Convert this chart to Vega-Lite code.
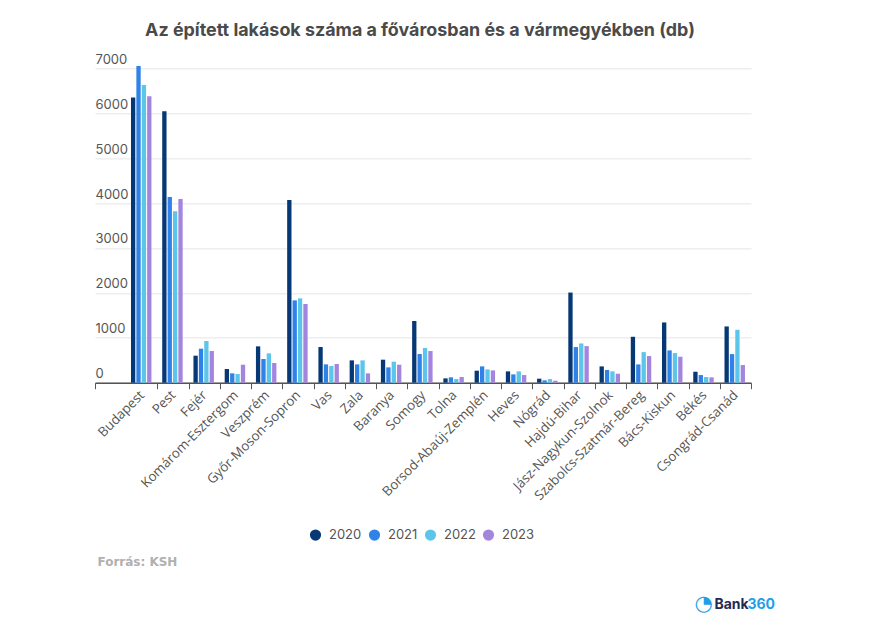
{"$schema":"https://vega.github.io/schema/vega-lite/v6.json","width":656,"height":314.4,"autosize":"none","padding":{"left":95,"top":68.3,"right":142,"bottom":256},"background":"white",
"title":{"text":"Az épített lakások száma a fővárosban és a vármegyékben (db)","anchor":"middle","dx":-3,"offset":13,"font":"Inter","fontSize":17.9,"fontWeight":700,"color":"#4a4a4a"},
"data":{"values":[
{"m":"Budapest","y":"2020","v":6350},{"m":"Budapest","y":"2021","v":7052},{"m":"Budapest","y":"2022","v":6630},{"m":"Budapest","y":"2023","v":6377},
{"m":"Pest","y":"2020","v":6043},{"m":"Pest","y":"2021","v":4135},{"m":"Pest","y":"2022","v":3816},{"m":"Pest","y":"2023","v":4090},
{"m":"Fejér","y":"2020","v":601},{"m":"Fejér","y":"2021","v":757},{"m":"Fejér","y":"2022","v":928},{"m":"Fejér","y":"2023","v":705},
{"m":"Komárom-Esztergom","y":"2020","v":304},{"m":"Komárom-Esztergom","y":"2021","v":208},{"m":"Komárom-Esztergom","y":"2022","v":193},{"m":"Komárom-Esztergom","y":"2023","v":401},
{"m":"Veszprém","y":"2020","v":809},{"m":"Veszprém","y":"2021","v":527},{"m":"Veszprém","y":"2022","v":653},{"m":"Veszprém","y":"2023","v":438},
{"m":"Győr-Moson-Sopron","y":"2020","v":4068},{"m":"Győr-Moson-Sopron","y":"2021","v":1833},{"m":"Győr-Moson-Sopron","y":"2022","v":1878},{"m":"Győr-Moson-Sopron","y":"2023","v":1752},
{"m":"Vas","y":"2020","v":794},{"m":"Vas","y":"2021","v":408},{"m":"Vas","y":"2022","v":371},{"m":"Vas","y":"2023","v":416},
{"m":"Zala","y":"2020","v":497},{"m":"Zala","y":"2021","v":408},{"m":"Zala","y":"2022","v":497},{"m":"Zala","y":"2023","v":208},
{"m":"Baranya","y":"2020","v":512},{"m":"Baranya","y":"2021","v":341},{"m":"Baranya","y":"2022","v":468},{"m":"Baranya","y":"2023","v":401},
{"m":"Somogy","y":"2020","v":1373},{"m":"Somogy","y":"2021","v":638},{"m":"Somogy","y":"2022","v":772},{"m":"Somogy","y":"2023","v":705},
{"m":"Tolna","y":"2020","v":96},{"m":"Tolna","y":"2021","v":119},{"m":"Tolna","y":"2022","v":81},{"m":"Tolna","y":"2023","v":126},
{"m":"Borsod-Abaúj-Zemplén","y":"2020","v":267},{"m":"Borsod-Abaúj-Zemplén","y":"2021","v":363},{"m":"Borsod-Abaúj-Zemplén","y":"2022","v":296},{"m":"Borsod-Abaúj-Zemplén","y":"2023","v":274},
{"m":"Heves","y":"2020","v":252},{"m":"Heves","y":"2021","v":185},{"m":"Heves","y":"2022","v":252},{"m":"Heves","y":"2023","v":170},
{"m":"Nógrád","y":"2020","v":89},{"m":"Nógrád","y":"2021","v":52},{"m":"Nógrád","y":"2022","v":81},{"m":"Nógrád","y":"2023","v":44},
{"m":"Hajdú-Bihar","y":"2020","v":2007},{"m":"Hajdú-Bihar","y":"2021","v":793},{"m":"Hajdú-Bihar","y":"2022","v":874},{"m":"Hajdú-Bihar","y":"2023","v":815},
{"m":"Jász-Nagykun-Szolnok","y":"2020","v":363},{"m":"Jász-Nagykun-Szolnok","y":"2021","v":281},{"m":"Jász-Nagykun-Szolnok","y":"2022","v":252},{"m":"Jász-Nagykun-Szolnok","y":"2023","v":200},
{"m":"Szabolcs-Szatmár-Bereg","y":"2020","v":1022},{"m":"Szabolcs-Szatmár-Bereg","y":"2021","v":407},{"m":"Szabolcs-Szatmár-Bereg","y":"2022","v":681},{"m":"Szabolcs-Szatmár-Bereg","y":"2023","v":593},
{"m":"Bács-Kiskun","y":"2020","v":1341},{"m":"Bács-Kiskun","y":"2021","v":719},{"m":"Bács-Kiskun","y":"2022","v":659},{"m":"Bács-Kiskun","y":"2023","v":578},
{"m":"Békés","y":"2020","v":244},{"m":"Békés","y":"2021","v":170},{"m":"Békés","y":"2022","v":126},{"m":"Békés","y":"2023","v":119},
{"m":"Csongrád-Csanád","y":"2020","v":1252},{"m":"Csongrád-Csanád","y":"2021","v":637},{"m":"Csongrád-Csanád","y":"2022","v":1178},{"m":"Csongrád-Csanád","y":"2023","v":393}
]},
"encoding":{
"x":{"field":"m","type":"nominal","sort":null,"scale":{"domain":[" ","Budapest","Pest","Fejér","Komárom-Esztergom","Veszprém","Győr-Moson-Sopron","Vas","Zala","Baranya","Somogy","Tolna","Borsod-Abaúj-Zemplén","Heves","Nógrád","Hajdú-Bihar","Jász-Nagykun-Szolnok","Szabolcs-Szatmár-Bereg","Bács-Kiskun","Békés","Csongrád-Csanád"],"paddingInner":0,"paddingOuter":0},
"axis":{"title":"Forrás: KSH","titleX":2,"titleY":183,"titleAlign":"left","titleBaseline":"alphabetic","titleFont":"DejaVu Sans","titleFontSize":12,"titleFontWeight":700,"titleColor":"#b0b0b0","labelAngle":-45,"labelAlign":"right","labelBaseline":"middle","labelFont":"Open Sans","labelFontSize":13.3,"labelColor":"#555555","labelPadding":4,"labelOverlap":false,"tickBand":"extent","tickSize":6,"tickWidth":1,"tickColor":{"condition":{"test":"datum.value===' '","value":"transparent"},"value":"#555555"},"domainColor":"#555555","domainWidth":1.5,"grid":false}},
"xOffset":{"field":"y","type":"nominal","scale":{"paddingInner":0.2,"paddingOuter":1.22,"align":0.44}},
"color":{"field":"y","type":"nominal","scale":{"domain":["2020","2021","2022","2023"],"range":["#063876","#2e82e8","#5cc6ea","#a485de"]},
"legend":{"title":null,"orient":"none","legendX":214,"legendY":460,"direction":"horizontal","symbolType":"circle","symbolSize":125,"symbolStrokeWidth":0,"labelFont":"Inter","labelFontSize":13,"labelColor":"#555555","columnPadding":6,"labelOffset":7}}
},
"layer":[
{"mark":{"type":"bar"},"encoding":{"y":{"field":"v","type":"quantitative","scale":{"domain":[0,7000],"nice":false},"axis":{"title":"Bank","titleX":619,"titleY":540.7,"titleAngle":0,"titleAlign":"left","titleBaseline":"alphabetic","titleFont":"Inter","titleFontSize":14,"titleFontWeight":700,"titleColor":"#1f2a56","values":[0,1000,2000,3000,4000,5000,6000,7000],"format":"d","labelAlign":"left","labelBaseline":"bottom","labelPadding":0,"labelOffset":-2,"labelFont":"Inter","labelFontSize":13,"labelColor":"#555555","ticks":false,"tickSize":0,"domain":false,"grid":true,"gridColor":"#eeeeee","gridWidth":1.5}}}},
{"mark":{"type":"bar","opacity":0},"encoding":{"y":{"field":"v","type":"quantitative","scale":{"domain":[0,7000],"nice":false},"axis":{"orient":"right","title":"360","titleX":-4,"titleY":540.7,"titleAngle":0,"titleAlign":"left","titleBaseline":"alphabetic","titleFont":"Inter","titleFontSize":14,"titleFontWeight":700,"titleColor":"#1e9fe8","labels":false,"ticks":false,"domain":false,"grid":false}}}},
{"mark":{"type":"bar","opacity":0},"encoding":{"y":{"field":"v","type":"quantitative","scale":{"domain":[0,7000],"nice":false},"axis":{"orient":"right","title":"◔","titleX":-57,"titleY":541.5,"titleAngle":0,"titleAlign":"left","titleBaseline":"alphabetic","titleFont":"DejaVu Sans","titleFontSize":21,"titleFontWeight":700,"titleColor":"#1e9fe8","labels":false,"ticks":false,"domain":false,"grid":false}}}}
],
"resolve":{"scale":{"y":"independent"}},
"view":{"stroke":null}}
